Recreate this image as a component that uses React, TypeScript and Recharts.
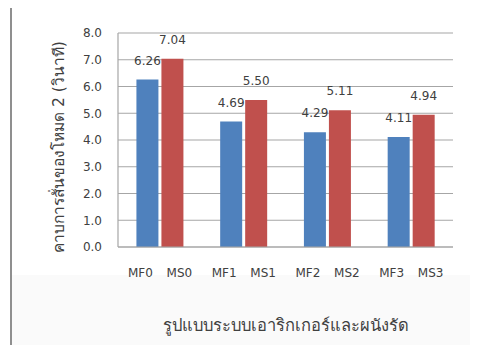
import React from "react";
import { BarChart, Bar, XAxis, YAxis, CartesianGrid, LabelList } from "recharts";

const groups = ["0", "1", "2", "3"];
const mfLabels = ["MF0", "MF1", "MF2", "MF3"];
const msLabels = ["MS0", "MS1", "MS2", "MS3"];
const mfValues = [6.26, 4.69, 4.29, 4.11];
const msValues = [7.04, 5.5, 5.11, 4.94];
const yTicks = [0, 1, 2, 3, 4, 5, 6, 7, 8];
const yTitle = "คาบการสั่นของโหมด 2 (วินาที)";
const xTitle = "รูปแบบระบบเอาริกเกอร์และผนังรัด";

const data = groups.map((g, i) => ({
  g,
  mf: mfValues[i],
  ms: msValues[i],
  mfName: mfLabels[i],
  msName: msLabels[i],
}));

const FONT = "'DejaVu Sans', sans-serif";
const TXT = "#404040";

const makeNameLabel = (names: string[], shift: number) => (props: any) => {
  const { x, y, width, height, index } = props;
  return (
    <text
      x={Number(x) + Number(width) / 2 + shift}
      y={Number(y) + Number(height) + 26}
      textAnchor="middle"
      dominantBaseline="central"
      fontSize={12}
      fontFamily={FONT}
      fill={TXT}
    >
      {names[index]}
    </text>
  );
};

const YTitle = (props: any) => {
  const vb = props.viewBox || {};
  const cx = 59;
  const cy = Number(vb.y) + Number(vb.height) / 2 + 7;
  return (
    <text
      x={cx}
      y={cy}
      transform={`rotate(-90, ${cx}, ${cy})`}
      textAnchor="middle"
      dominantBaseline="central"
      fontSize={15.5}
      fontFamily={FONT}
      fill={TXT}
    >
      {yTitle}
    </text>
  );
};

export default function App() {
  return (
    <div style={{ position: "relative", margin: -8, width: 478, height: 353, overflow: "hidden", background: "#fff" }}>
      <div style={{ position: "absolute", left: 11, top: 275, width: 470, height: 80, background: "#fafafa" }} />
      <div
        style={{
          position: "absolute",
          left: 10,
          top: 2,
          width: 480,
          height: 360,
          borderLeft: "2px solid #8f8f8f",
          borderTop: "2px solid #8f8f8f",
        }}
      />
      <div style={{ position: "absolute", left: 0, top: 0 }}>
        <BarChart
          width={478}
          height={353}
          data={data}
          margin={{ top: 33, right: 25, bottom: 0, left: 0 }}
          barCategoryGap="22%"
          barGap={3}
        >
          <CartesianGrid vertical={false} stroke="#a6a6a6" strokeWidth={1.2} />
          <XAxis
            dataKey="g"
            height={106}
            tick={false}
            tickLine={false}
            axisLine={{ stroke: "#a6a6a6", strokeWidth: 1.2 }}
            label={{
              value: xTitle,
              position: "insideTop",
              offset: 72,
              fontSize: 16.5,
              fontFamily: FONT,
              fill: TXT,
            }}
          />
          <YAxis
            width={118}
            domain={[0, 8]}
            ticks={yTicks}
            interval={0}
            tickFormatter={(v: number) => v.toFixed(1)}
            tick={{ fontSize: 12, fontFamily: FONT, fill: TXT }}
            tickLine={false}
            tickSize={0}
            tickMargin={16}
            axisLine={{ stroke: "#a6a6a6", strokeWidth: 1.2 }}
            label={<YTitle />}
          />
          <Bar dataKey="mf" fill="#4F81BD" isAnimationActive={false}>
            <LabelList
              dataKey="mf"
              position="top"
              offset={15}
              formatter={(v: number) => v.toFixed(2)}
              style={{ fontSize: 12, fontFamily: FONT, fill: TXT }}
            />
            <LabelList dataKey="mfName" content={makeNameLabel(mfLabels, -7)} />
          </Bar>
          <Bar dataKey="ms" fill="#C0504D" isAnimationActive={false}>
            <LabelList
              dataKey="ms"
              position="top"
              offset={15}
              formatter={(v: number) => v.toFixed(2)}
              style={{ fontSize: 12, fontFamily: FONT, fill: TXT }}
            />
            <LabelList dataKey="msName" content={makeNameLabel(msLabels, 7)} />
          </Bar>
        </BarChart>
      </div>
    </div>
  );
}
